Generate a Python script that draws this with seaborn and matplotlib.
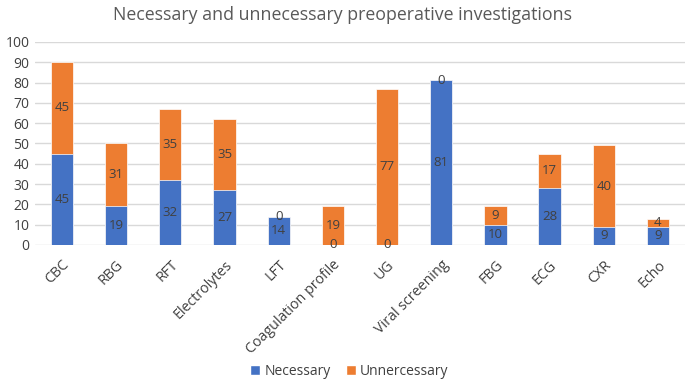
import matplotlib
matplotlib.use("Agg")
import matplotlib.pyplot as plt
import seaborn as sns
import pandas as pd
import numpy as np
from matplotlib.patches import Patch

categories = ["CBC", "RBG", "RFT", "Electrolytes", "LFT", "Coagulation profile", "UG",
              "Viral screening", "FBG", "ECG", "CXR", "Echo"]
necessary = [45, 19, 32, 27, 14, 0, 0, 81, 10, 28, 9, 9]
unnecessary = [45, 31, 35, 35, 0, 19, 77, 0, 9, 17, 40, 4]
yticks = [0, 10, 20, 30, 40, 50, 60, 70, 80, 90, 100]

sns.set_theme(style="white")
plt.rcParams["font.family"] = ["Open Sans", "DejaVu Sans"]

df = pd.DataFrame({"cat": categories, "nec": necessary, "unn": unnecessary})
df["total"] = df["nec"] + df["unn"]

blue = "#4472C4"
orange = "#ED7D31"
txt = "#404040"

fig = plt.figure(figsize=(6.85, 3.81), dpi=100)
ax = fig.add_axes([0.051, 0.357, 0.949, 0.533])

sns.barplot(data=df, x="cat", y="total", color=orange, width=0.41, ax=ax,
            saturation=1, edgecolor="white", linewidth=0.5, zorder=2)
sns.barplot(data=df, x="cat", y="nec", color=blue, width=0.41, ax=ax,
            saturation=1, edgecolor="white", linewidth=0.5, zorder=3)

ax.set_ylim(0, 100)
ax.set_xlim(-0.5, len(categories) - 0.5)
ax.set_yticks(yticks)
ax.yaxis.grid(True, color="#D9D9D9", linewidth=1)
ax.set_axisbelow(True)
for s in ax.spines.values():
    s.set_visible(False)
ax.set_xlabel("")
ax.set_ylabel("")
ax.tick_params(axis="both", length=0, labelsize=10, colors=txt, pad=4)
ax.tick_params(axis="x", pad=9, labelsize=10.3)
plt.setp(ax.get_xticklabels(), rotation=45, ha="right", rotation_mode="anchor")

for i, (n, u) in enumerate(zip(necessary, unnecessary)):
    ax.text(i, n / 2, str(n), ha="center", va="center", fontsize=9.5, color=txt, zorder=5)
    ax.text(i, n + u / 2, str(u), ha="center", va="center", fontsize=9.5, color=txt, zorder=5)

fig.suptitle("Necessary and unnecessary preoperative investigations", x=0.5, y=0.985,
             fontsize=12.8, color="#595959")

handles = [Patch(facecolor=blue, label="Necessary"), Patch(facecolor=orange, label="Unnercessary")]
fig.legend(handles=handles, loc="center", bbox_to_anchor=(0.51, 0.025), ncol=2, frameon=False,
           fontsize=10, labelcolor=txt, handlelength=0.7, handleheight=0.7,
           handletextpad=0.3, columnspacing=1.1, borderpad=0)

fig.savefig("out.png", dpi=100)
